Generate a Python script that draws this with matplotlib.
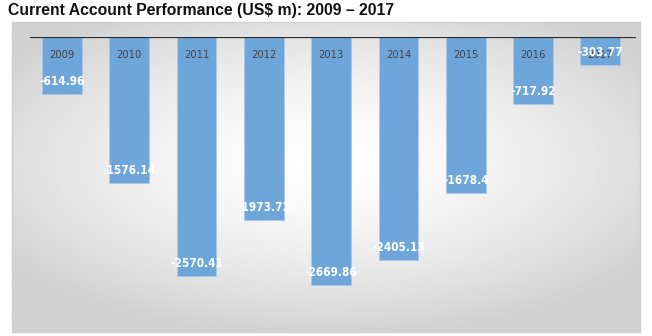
import numpy as np
import matplotlib
matplotlib.use("Agg")
import matplotlib.pyplot as plt

# data
years = ["2009", "2010", "2011", "2012", "2013", "2014", "2015", "2016", "2017"]
values = [-614.96, -1576.14, -2570.41, -1973.72, -2669.86, -2405.13, -1678.4, -717.92, -303.77]
value_labels = ["-614.96", "-1576.14", "-2570.41", "-1973.72", "-2669.86", "-2405.13", "-1678.4", "-717.92", "-303.77"]

W, H = 652, 336
fig = plt.figure(figsize=(W / 100, H / 100), dpi=100)
fig.patch.set_facecolor("white")

# title
fig.text(8 / W, 1 - 10 / H, "Current Account Performance (US$ m): 2009 \u2013 2017",
         fontsize=11.3, fontweight="bold", family=["Liberation Sans", "DejaVu Sans"],
         va="center", ha="left", color="#111111")

# gradient panel in the background
bg = fig.add_axes([12 / W, 4 / H, 628 / W, 310 / H])
yy, xx = np.mgrid[-1:1:200j, -1:1:400j]
r = np.sqrt((xx / 1.15) ** 2 + ((yy + 0.1) / 1.05) ** 2)
grad = np.clip(1 - 0.16 * r ** 1.5, 0.82, 1.0)
bg.imshow(grad, cmap="gray", vmin=0, vmax=1, aspect="auto", extent=[0, 1, 0, 1])
bg.set_xticks([])
bg.set_yticks([])
for s in bg.spines.values():
    s.set_color("#cfcfcf")
    s.set_linewidth(1)

# bar chart
ax = fig.add_axes([30 / W, 16 / H, 606 / W, 283 / H])
ax.patch.set_alpha(0)
x = np.arange(len(years))
ax.bar(x, values, width=0.59, color="#6fa6d9", edgecolor="#a9c9ea", linewidth=0.6, zorder=2)
ax.axhline(0, color="#2b2b2b", lw=1.6, zorder=3)
ax.set_xlim(-0.475, 8.53)
ax.set_ylim(-3046, 0)
for sp in ax.spines.values():
    sp.set_visible(False)
ax.set_xticks([])
ax.set_yticks([])

for xi, yr, v, lab in zip(x, years, values, value_labels):
    ax.annotate(yr, (xi, 0), xytext=(0, -13), textcoords="offset points",
                ha="center", va="center", fontsize=8, color="#404040",
                family="DejaVu Sans", fontstretch="condensed", zorder=4)
    ax.annotate(lab, (xi, v), xytext=(0, 9), textcoords="offset points",
                ha="center", va="center", fontsize=8.5, color="white",
                fontweight="bold", family="DejaVu Sans", fontstretch="condensed",
                zorder=4)

fig.savefig("out.png", dpi=100)
